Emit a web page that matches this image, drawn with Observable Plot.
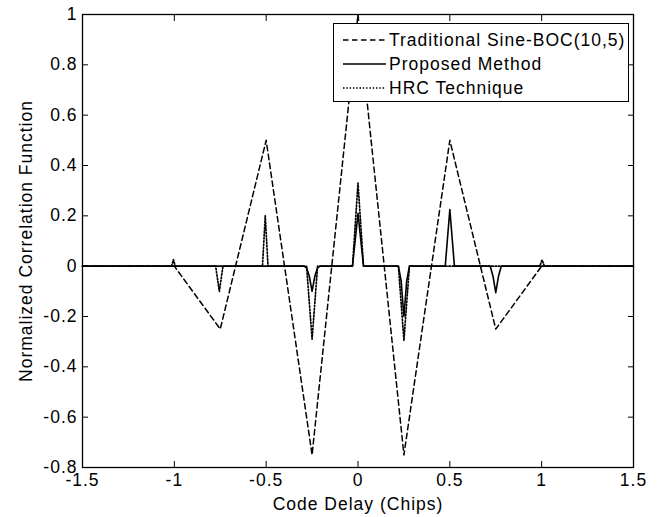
<!DOCTYPE html>
<html>
<head>
<meta charset="utf-8">
<script src="https://cdn.jsdelivr.net/npm/d3@7"></script>
<script src="https://cdn.jsdelivr.net/npm/@observablehq/plot@0.6"></script>
<style>
  html, body { margin: 0; padding: 0; background: #fff; }
  #wrap { position: relative; width: 657px; height: 517px; font-family: "Liberation Sans", Arial, sans-serif; }
  #legend { position: absolute; left: 333px; top: 23px; width: 294px; height: 77px; border: 1px solid #000; background: #fff; box-sizing: content-box; }
  .row { position: absolute; left: 0; height: 24px; display: flex; align-items: center; font-size: 17.5px; letter-spacing: 1px; color: #000; white-space: nowrap; }
  .row svg { margin-left: 9px; margin-right: 3px; }
</style>
</head>
<body>
<div id="wrap"></div>
<script>
// Series: Traditional Sine-BOC(10,5)
const bocX = [-1.5, -1, -0.75, -0.5, -0.25, 0, 0.25, 0.5, 0.75, 1, 1.5];
const bocY = [0, 0, -0.25, 0.5, -0.75, 1, -0.75, 0.5, -0.25, 0, 0];

// Series: Proposed Method
const propX = [-1.5, -0.295, -0.28, -0.265, -0.25, -0.235, -0.22, -0.205,
               -0.03, 0, 0.03,
               0.22, 0.235, 0.25, 0.265, 0.28,
               0.475, 0.5, 0.525,
               0.72, 0.735, 0.75, 0.765, 0.78, 1.5];
const propY = [0, 0, -0.006, -0.04, -0.10, -0.04, -0.006, 0,
               0, 0.21, 0,
               0, -0.06, -0.2, -0.06, 0,
               0, 0.225, 0,
               0, -0.04, -0.105, -0.04, 0, 0];

// Series: HRC Technique
const hrcX = [-1.5, -1.015, -1.005, -0.995,
              -0.775, -0.755, -0.735,
              -0.52, -0.505, -0.49,
              -0.28, -0.25, -0.22,
              -0.03, 0, 0.03,
              0.22, 0.25, 0.28,
              0.99, 1.002, 1.015, 1.5];
const hrcY = [0, 0, 0.026, 0,
              0, -0.1, 0,
              0, 0.2, 0,
              0, -0.29, 0,
              0, 0.33, 0,
              0, -0.295, 0,
              0, 0.025, 0, 0];

const xTicks = [-1.5, -1, -0.5, 0, 0.5, 1, 1.5];
const yTicks = [-0.8, -0.6, -0.4, -0.2, 0, 0.2, 0.4, 0.6, 0.8, 1];

const seriesNames = ["Traditional Sine-BOC(10,5)", "Proposed Method", "HRC Technique"];
const dashes = ["5.5,3.5", null, "1.5,1.8"];
const widths = [1.5, 1.6, 1.7];

const fmt = d => String(d);

const plot = Plot.plot({
  width: 657,
  height: 517,
  marginLeft: 82,
  marginRight: 24,
  marginTop: 14,
  marginBottom: 50,
  style: { fontSize: "17.5px", letterSpacing: "1px", fontFamily: "Liberation Sans, Arial, sans-serif", color: "#000", background: "#fff", overflow: "visible" },
  x: { domain: [-1.5, 1.5] },
  y: { domain: [-0.8, 1] },
  marks: [
    Plot.line(bocX.map((_, i) => i), { x: bocX, y: bocY, stroke: "#000", strokeWidth: widths[0], strokeDasharray: dashes[0] }),
    Plot.line(propX.map((_, i) => i), { x: propX, y: propY, stroke: "#000", strokeWidth: widths[1], curve: "linear" }),
    Plot.line(hrcX.map((_, i) => i), { x: hrcX, y: hrcY, stroke: "#000", strokeWidth: widths[2], strokeDasharray: dashes[2] }),
    Plot.frame({ stroke: "#000", strokeWidth: 1.3 }),
    Plot.axisX({ anchor: "bottom", ticks: xTicks, tickFormat: fmt, tickSize: -6, tickPadding: 12, label: "Code Delay (Chips)", labelAnchor: "center", labelOffset: 42, labelArrow: "none" }),
    Plot.axisX({ anchor: "top", ticks: xTicks, tickFormat: () => "", tickSize: -6, label: null }),
    Plot.axisY({ anchor: "left", ticks: yTicks, tickFormat: fmt, tickSize: -6, tickPadding: 11, label: "Normalized Correlation Function", labelAnchor: "center", labelOffset: 63, labelArrow: "none" }),
    Plot.axisY({ anchor: "right", ticks: yTicks, tickFormat: () => "", tickSize: -6, label: null })
  ]
});

const wrap = document.getElementById("wrap");
wrap.appendChild(plot);

// Legend
const legend = document.createElement("div");
legend.id = "legend";
const rowTops = [4, 28, 52];
seriesNames.forEach((name, i) => {
  const row = document.createElement("div");
  row.className = "row";
  row.style.top = rowTops[i] + "px";
  const dash = dashes[i] ? `stroke-dasharray="${dashes[i]}"` : "";
  row.innerHTML = `<svg width="43" height="10"><line x1="0" y1="5" x2="43" y2="5" stroke="#000" stroke-width="${widths[i]}" ${dash}/></svg><span>${name}</span>`;
  legend.appendChild(row);
});
wrap.appendChild(legend);
</script>
</body>
</html>
